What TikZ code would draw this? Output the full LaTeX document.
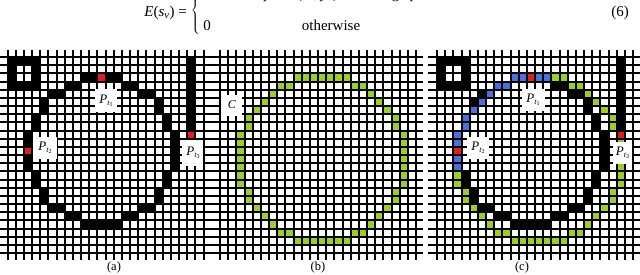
\documentclass[tikz,border=0pt]{standalone}
\usepackage{fontspec}
\setmainfont{Liberation Serif}
\definecolor{cgreen}{RGB}{155,208,30}
\definecolor{cblue}{RGB}{72,112,225}
\definecolor{cred}{RGB}{228,28,28}
\newcommand{\plab}[1]{\textit{P}\raisebox{-0.35ex}{\fontsize{8}{8}\selectfont\textit{t}\raisebox{-0.3ex}{\fontsize{6}{6}\selectfont #1}}}
\newcommand{\gridat}[1]{%
  \foreach \k in {0,...,24} {%
    \draw[gridline] ({#1-9},{57+\k*8.17}) -- ({#1+24*8.17+7},{57+\k*8.17});
    \draw[gridline] ({#1+\k*8.17},50) -- ({#1+\k*8.17},{57+24*8.17+7});
  }}
\newcommand{\cellsat}[3]{%
  \foreach \c/\r in #3 {%
    \fill[#2] ({#1+\c*8.17},{57+\r*8.17}) rectangle ++(8.17,8.17);
  }}
\newcommand{\edgelist}{9/2,10/2,11/2,12/2,13/2,7/3,8/3,14/3,15/3,5/4,6/4,16/4,17/4,4/5,18/5,4/6,18/6,3/7,19/7,3/8,19/8,2/9,20/9,2/10,20/10,2/11,20/11,2/12,20/12,2/13,20/13,3/14,19/14,3/15,19/15,4/16,18/16,4/17,18/17,5/18,6/18,16/18,17/18,7/19,8/19,14/19,15/19,9/20,10/20,11/20,12/20,13/20}
\newcommand{\squarelist}{0/0,1/0,2/0,3/0,0/1,3/1,0/2,3/2,0/3,1/3,2/3,3/3}
\newcommand{\barlist}{22/0,22/1,22/2,22/3,22/4,22/5,22/6,22/7,22/8}
\newcommand{\circlelist}{9/2,10/2,11/2,12/2,13/2,14/2,15/2,7/3,8/3,16/3,17/3,6/4,18/4,5/5,19/5,4/6,20/6,3/7,21/7,3/8,21/8,2/9,2/10,2/11,2/12,2/13,2/14,2/15,22/9,22/10,22/11,22/12,22/13,22/14,22/15,3/16,21/16,3/17,21/17,4/18,20/18,5/19,19/19,6/20,18/20,7/21,8/21,16/21,17/21,9/22,10/22,11/22,12/22,13/22,14/22,15/22}
\newcommand{\bluelist}{9/2,10/2,12/2,13/2,7/3,8/3,6/4,5/5,4/6,3/7,3/8,2/9,2/10,2/12,2/13}
\newcommand{\redlist}{11/2,2/11,22/9}
\tikzset{
  gridline/.style={draw=black,line width=2pt},
  eqtext/.style={inner sep=0pt,font=\fontsize{15}{18}\selectfont},
  sublabel/.style={inner sep=0pt,font=\fontsize{12.5}{14}\selectfont},
  ptlabel/.style={inner sep=0pt,font=\fontsize{13}{15}\selectfont},
  labelbox/.style={fill=white,draw=none}
}
\begin{document}
\begin{tikzpicture}[x=1pt,y=-1pt]
\useasboundingbox (0,0) rectangle (640,274);
\clip (0,0) rectangle (640,274);
\fill[white] (0,0) rectangle (640,274);
% equation
\node[eqtext,anchor=base east] (lhs) at (187,16) {\textit{E}(\textit{s}\textsubscript{\textit{v}}) =};
\node[inner sep=0pt] (brace) at (196,11) {\fontsize{15}{18}\selectfont$\left\{\rule[-21pt]{0pt}{42pt}\right.$};
\node[eqtext,anchor=base] (one) at (207,-1.5) {1};
\node[eqtext,anchor=base west] (cond) at (228,-1.5) {if the pixel (\textit{x}\textsubscript{\textit{v}}, \textit{y}\textsubscript{\textit{v}}) is the edge point};
\node[eqtext,anchor=base] (zero) at (207,30) {0};
\node[eqtext,anchor=base] (oth) at (331,30) {otherwise};
\node[eqtext,anchor=base] (num) at (620,16) {(6)};
% panel (a)
\cellsat{7.5}{black}{\squarelist}
\cellsat{7.5}{black}{\barlist}
\cellsat{7.5}{black}{\edgelist}
\cellsat{7.5}{cred}{\redlist}
\gridat{7.5}
\fill[labelbox] (95,89) rectangle (117,112);
\node[ptlabel] (pa1) at (106,100.5) {\plab{1}};
\fill[labelbox] (33,137) rectangle (57,159);
\node[ptlabel] (pa2) at (45,148) {\plab{2}};
\fill[labelbox] (182,140) rectangle (203,166);
\node[ptlabel] (pa3) at (193,153) {\plab{3}};
% panel (b)
\cellsat{220}{cgreen}{\circlelist}
\gridat{220}
\fill[labelbox] (221,95) rectangle (242,116);
\node[ptlabel,font=\fontsize{12}{14}\selectfont] (cl) at (232,105) {\textit{C}};
% panel (c)
\cellsat{437}{black}{\squarelist}
\cellsat{437}{black}{\barlist}
\cellsat{437}{black}{\edgelist}
\cellsat{437}{cgreen}{\circlelist}
\cellsat{437}{cblue}{\bluelist}
\cellsat{437}{cred}{\redlist}
\gridat{437}
\fill[labelbox] (522,89) rectangle (545,111);
\node[ptlabel] (pc1) at (533,100) {\plab{1}};
\fill[labelbox] (467,137) rectangle (489,159);
\node[ptlabel] (pc2) at (478,148) {\plab{2}};
\fill[labelbox] (613,142) rectangle (632,164);
\node[ptlabel] (pc3) at (622.5,153) {\plab{3}};
% sub labels
\node[sublabel] (la) at (114,267) {(a)};
\node[sublabel] (lb) at (318,267) {(b)};
\node[sublabel] (lc) at (522,267) {(c)};
\end{tikzpicture}
\end{document}
